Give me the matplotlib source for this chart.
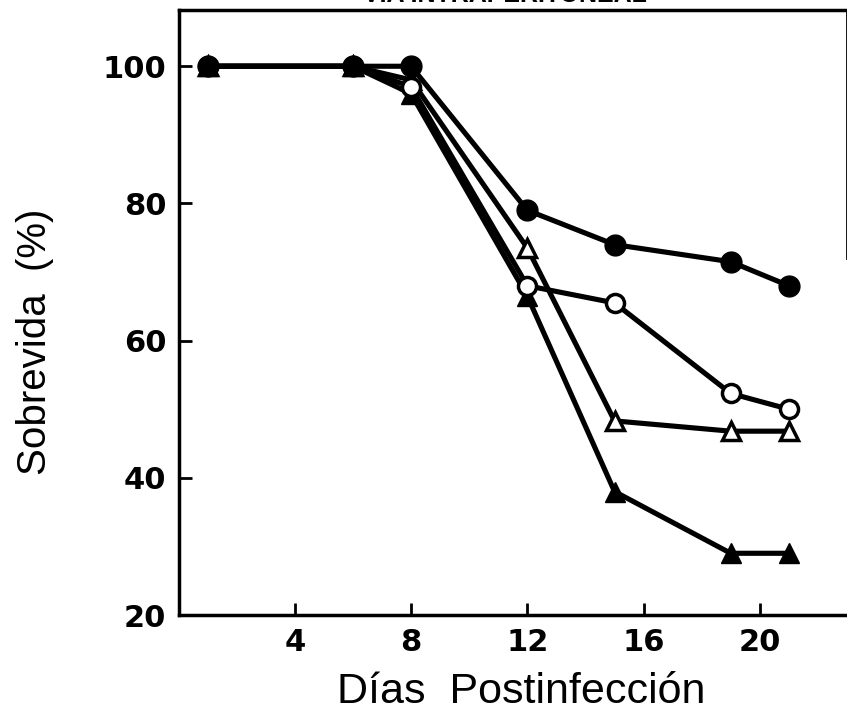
import matplotlib
matplotlib.use("Agg")
import matplotlib.pyplot as plt

# dias postinfeccion
dias = [1, 6, 8, 12, 15, 19, 21]

# sobrevida (%) por grupo
circulo_lleno = [100, 100, 100, 79, 74, 71.5, 68]
circulo_vacio = [100, 100, 97, 68, 65.5, 52.3, 50]
triangulo_vacio = [100, 100, 98, 73.5, 48.3, 46.8, 46.8]
triangulo_lleno = [100, 100, 96, 66.5, 38, 29, 29]

xticks = [4, 8, 12, 16, 20]
yticks = [20, 40, 60, 80, 100]

plt.rcParams["font.family"] = ["Liberation Sans", "DejaVu Sans"]

fig = plt.figure(figsize=(8.47, 7.25), dpi=100)
ax = fig.add_axes([0.2109, 0.1517, 0.7891, 0.8345])

lw = 3.7
ax.plot(dias, triangulo_lleno, color="black", lw=lw, marker="^", ms=14,
        mfc="black", mec="black", zorder=3)
ax.plot(dias, triangulo_vacio, color="black", lw=lw, marker="^", ms=13,
        mfc="white", mec="black", mew=2.5, zorder=4)
ax.plot(dias, circulo_vacio, color="black", lw=lw, marker="o", ms=13,
        mfc="white", mec="black", mew=2.5, zorder=5)
ax.plot(dias, circulo_lleno, color="black", lw=lw, marker="o", ms=15,
        mfc="black", mec="black", zorder=6)

ax.set_xlim(0, 23)
ax.set_ylim(20, 108.2)
ax.set_xticks(xticks)
ax.set_yticks(yticks)
ax.tick_params(direction="in", length=9, width=2, labelsize=22, pad=9)
for lab in ax.get_xticklabels() + ax.get_yticklabels():
    lab.set_fontweight("bold")
    lab.set_family("DejaVu Sans")

for s in ["left", "bottom", "top"]:
    ax.spines[s].set_linewidth(2.5)
ax.spines["right"].set_linewidth(2)
ax.spines["right"].set_bounds(72, 108.2)

fig.text(0.041, 0.528, "Sobrevida  (%)", rotation=90, ha="center", va="center",
         fontsize=29)
fig.text(0.615, 0.045, "Días  Postinfección", ha="center", va="center",
         fontsize=31)

fig.text(0.596, 0.990, "VIA INTRAPERITONEAL", ha="center", va="bottom",
         fontsize=18, fontweight="bold")

fig.savefig("out.png", dpi=100)
